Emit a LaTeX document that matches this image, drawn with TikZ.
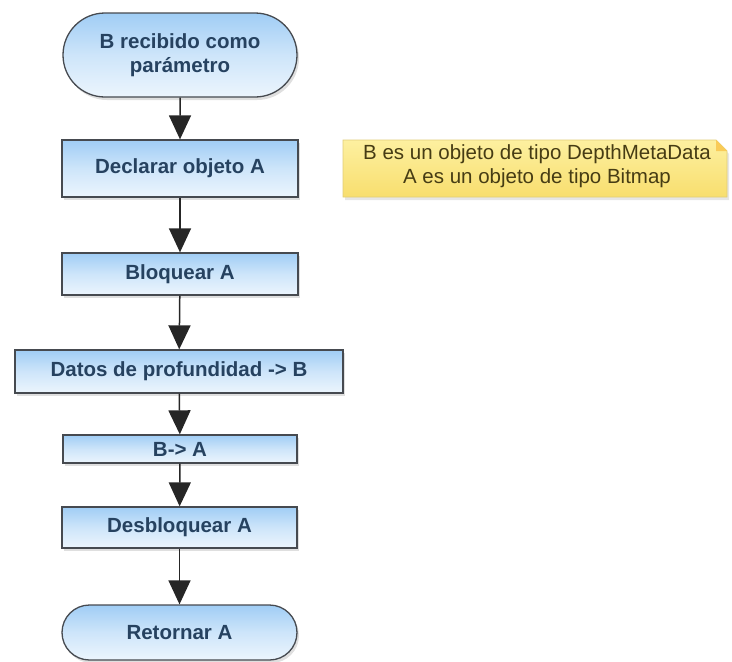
\documentclass[tikz,border=0pt]{standalone}
\usepackage{fontspec}
\setmainfont{Liberation Sans}
\usetikzlibrary{arrows.meta,shadows,shapes.misc}
\definecolor{boxtop}{RGB}{160,205,245}
\definecolor{boxbot}{RGB}{236,245,253}
\definecolor{boxline}{RGB}{70,74,80}
\definecolor{boxtext}{RGB}{38,66,96}
\definecolor{notetop}{RGB}{253,240,160}
\definecolor{notebot}{RGB}{248,222,110}
\definecolor{noteline}{RGB}{225,205,120}
\definecolor{notetext}{RGB}{70,60,20}
\tikzset{
  procbox/.style={draw=boxline, line width=1.3pt, rectangle,
    top color=boxtop, bottom color=boxbot, middle color=boxbot!60!boxtop,
    drop shadow={shadow xshift=2pt, shadow yshift=-3pt, opacity=0.25},
    text=boxtext, font=\fontsize{20.5}{24}\selectfont\bfseries,
    inner sep=0pt, align=center},
  termbox/.style={procbox, rounded rectangle},
  flow/.style={line width=1.5pt, draw=black!85,
    -{Triangle[length=24pt,width=22pt]}},
}
\begin{document}
\begin{tikzpicture}[x=1pt,y=-1pt]
\useasboundingbox (0,0) rectangle (732,662);
% process chain
\node[termbox, minimum width=234pt, minimum height=84pt] (start) at (180,55)
  {B recibido como\\par\'ametro};
\node[procbox, minimum width=236pt, minimum height=57pt] (decl) at (180,168.5)
  {Declarar objeto A};
\node[procbox, minimum width=236pt, minimum height=42pt] (lock) at (180,274)
  {Bloquear A};
\node[procbox, minimum width=328pt, minimum height=43pt] (depth) at (179,371.5)
  {Datos de profundidad -> B};
\node[procbox, minimum width=234pt, minimum height=28pt] (copy) at (180,449)
  {B-> A};
\node[procbox, minimum width=235pt, minimum height=41pt] (unlock) at (179.5,527.5)
  {Desbloquear A};
\node[termbox, minimum width=235pt, minimum height=55pt] (ret) at (179.5,632.5)
  {Retornar A};
\draw[flow] (start) -- (decl);
\draw[flow] (decl) -- (lock);
\draw[flow] (lock) -- (depth);
\draw[flow] (depth) -- (copy);
\draw[flow] (copy) -- (unlock);
\draw[flow] (unlock) -- (ret);
% annotation with folded corner
\path[draw=noteline, line width=0.8pt, top color=notetop, bottom color=notebot,
  drop shadow={shadow xshift=2pt, shadow yshift=-3pt, opacity=0.2}]
  (343,140) -- (716,140) -- (727,151) -- (727,197) -- (343,197) -- cycle;
\fill[notebot!80!orange] (716,140) -- (716,151) -- (727,151) -- cycle;
\node[text=notetext, font=\fontsize{20.5}{23.5}\selectfont, align=center] (note) at (537,166)
  {B es un objeto de tipo DepthMetaData\\A es un objeto de tipo Bitmap};
\end{tikzpicture}
\end{document}
